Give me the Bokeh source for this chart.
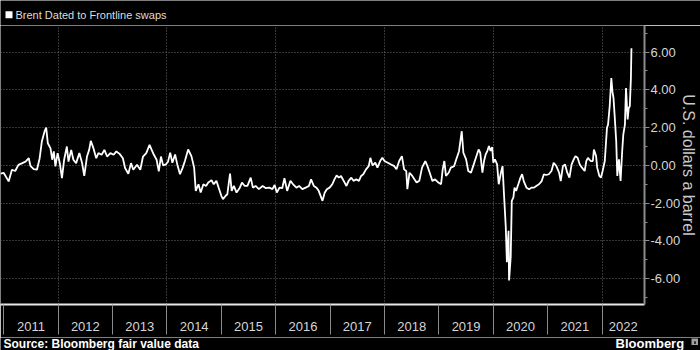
from bokeh.plotting import figure
from bokeh.layouts import column
from bokeh.models import (FixedTicker, CustomJSTickFormatter, NumeralTickFormatter, Range1d)
from bokeh.core.properties import value
from bokeh.embed import file_html
from bokeh.resources import INLINE

# ---- data (decimal year, USD/bbl) ----
dates = [
    2010.94, 2011.00, 2011.03, 2011.09, 2011.15, 2011.21, 2011.27, 2011.34, 2011.40, 2011.46,
    2011.49, 2011.55, 2011.61, 2011.66, 2011.70, 2011.75, 2011.78, 2011.81, 2011.86, 2011.89,
    2011.92, 2011.95, 2011.99, 2012.03, 2012.07, 2012.11, 2012.16, 2012.19, 2012.24, 2012.28,
    2012.33, 2012.39, 2012.44, 2012.48, 2012.53, 2012.57, 2012.60, 2012.65, 2012.70, 2012.74,
    2012.80, 2012.85, 2012.90, 2012.96, 2013.02, 2013.07, 2013.13, 2013.19, 2013.23, 2013.29,
    2013.34, 2013.38, 2013.45, 2013.51, 2013.56, 2013.62, 2013.68, 2013.72, 2013.76, 2013.81,
    2013.85, 2013.89, 2013.93, 2013.98, 2014.02, 2014.06, 2014.10, 2014.15, 2014.19, 2014.24,
    2014.29, 2014.33, 2014.39, 2014.45, 2014.50, 2014.53, 2014.58, 2014.62, 2014.67, 2014.72,
    2014.76, 2014.82, 2014.86, 2014.91, 2014.96, 2015.00, 2015.03, 2015.08, 2015.11, 2015.16,
    2015.19, 2015.23, 2015.28, 2015.34, 2015.38, 2015.43, 2015.48, 2015.54, 2015.58, 2015.63,
    2015.69, 2015.76, 2015.82, 2015.88, 2015.94, 2015.98, 2016.02, 2016.07, 2016.12, 2016.16,
    2016.21, 2016.27, 2016.32, 2016.38, 2016.43, 2016.49, 2016.55, 2016.61, 2016.65, 2016.70,
    2016.75, 2016.79, 2016.86, 2016.90, 2016.94, 2016.99, 2017.04, 2017.08, 2017.12, 2017.16,
    2017.20, 2017.25, 2017.30, 2017.34, 2017.39, 2017.43, 2017.48, 2017.53, 2017.57, 2017.61,
    2017.66, 2017.71, 2017.74, 2017.78, 2017.83, 2017.87, 2017.92, 2017.96, 2018.00, 2018.06,
    2018.12, 2018.18, 2018.22, 2018.27, 2018.32, 2018.36, 2018.40, 2018.42, 2018.46, 2018.51,
    2018.55, 2018.59, 2018.64, 2018.69, 2018.75, 2018.79, 2018.84, 2018.88, 2018.93, 2018.99,
    2019.04, 2019.07, 2019.10, 2019.13, 2019.18, 2019.22, 2019.28, 2019.32, 2019.37, 2019.42,
    2019.45, 2019.50, 2019.54, 2019.59, 2019.63, 2019.68, 2019.73, 2019.76, 2019.80, 2019.83,
    2019.86, 2019.89, 2019.92, 2019.95, 2019.98, 2020.00, 2020.03, 2020.07, 2020.10, 2020.14,
    2020.17, 2020.20, 2020.23, 2020.25, 2020.28, 2020.29, 2020.32, 2020.34, 2020.37, 2020.39,
    2020.42, 2020.46, 2020.50, 2020.53, 2020.56, 2020.61, 2020.66, 2020.70, 2020.75, 2020.79,
    2020.84, 2020.89, 2020.93, 2020.97, 2021.02, 2021.07, 2021.11, 2021.16, 2021.21, 2021.24,
    2021.28, 2021.32, 2021.36, 2021.40, 2021.44, 2021.48, 2021.51, 2021.55, 2021.59, 2021.63,
    2021.68, 2021.71, 2021.74, 2021.79, 2021.83, 2021.85, 2021.89, 2021.91, 2021.95, 2021.98,
    2022.01, 2022.05, 2022.09, 2022.11, 2022.14, 2022.17, 2022.19, 2022.21, 2022.23, 2022.26,
    2022.28, 2022.31, 2022.34, 2022.37, 2022.39, 2022.42, 2022.44, 2022.47, 2022.49, 2022.51,
    2022.53, 2022.54,
]
spread = [
    -0.44, -0.40, -0.55, -0.85, -0.23, -0.30, 0.03, 0.12, 0.20, 0.38,
    -0.02, -0.20, -0.23, 0.38, 1.26, 1.80, 2.00, 1.17, 0.90, 0.30,
    0.74, -0.05, 0.65, 0.12, -0.67, 0.30, 1.00, 0.20, 0.82, 0.30,
    0.12, 0.65, 0.12, -0.55, 0.47, 0.82, 1.30, 0.90, 0.38, 0.65,
    0.56, 0.82, 0.47, 0.65, 0.56, 0.74, 0.61, 0.38, -0.14, -0.44,
    0.12, -0.23, 0.03, -0.23, 0.47, 0.65, 1.09, 0.82, 0.56, 0.30,
    -0.32, 0.47, 0.00, 0.05, 0.20, 0.67, 0.14, 0.58, 0.05, -0.47,
    -0.12, 0.23, 0.84, 0.49, -0.12, -1.35, -1.00, -1.44, -1.00, -1.09,
    -0.91, -0.79, -1.00, -0.82, -1.26, -1.61, -1.79, -1.61, -1.53, -0.44,
    -1.35, -1.09, -1.44, -1.18, -0.91, -1.09, -1.09, -0.65, -1.18, -1.09,
    -1.26, -1.09, -1.21, -1.18, -1.26, -1.04, -1.44, -1.18, -1.21, -0.68,
    -1.35, -0.82, -1.00, -1.18, -1.09, -1.26, -1.18, -1.09, -0.74, -1.09,
    -1.18, -1.35, -1.88, -1.45, -1.26, -1.18, -1.00, -0.74, -0.53, -0.65,
    -0.56, -0.82, -1.09, -0.82, -0.65, -0.82, -0.74, -0.82, -0.56, -0.47,
    -0.21, -0.04, 0.40, 0.00, 0.14, -0.12, 0.23, 0.40, 0.23, 0.14,
    0.05, -0.04, -0.21, 0.23, 0.49, -0.21, -0.30, -1.26, -0.39, -0.56,
    -0.74, -0.91, -0.82, -0.12, 0.23, -0.04, -0.47, -0.82, -0.74, -0.91,
    -1.00, -0.21, 0.23, -0.56, -0.39, -0.12, -0.04, 0.32, 0.75, 1.81,
    0.67, 0.32, -0.30, -0.39, -0.04, 0.40, 0.84, 0.67, -0.39, 0.23,
    0.58, 0.76, 1.02, 0.76, 0.97, 0.14, 0.32, 0.05, -1.00, -0.39,
    -0.04, -1.70, -3.29, -5.13, -3.46, -6.10, -4.87, -1.88, -1.70, -1.18,
    -1.35, -1.00, -0.65, -0.47, -0.83, -1.18, -1.27, -1.18, -1.18, -1.09,
    -1.00, -0.83, -0.47, -0.51, -0.47, -0.30, 0.14, -0.04, -0.39, -0.83,
    -0.04, 0.05, -0.39, -0.65, 0.05, 0.32, 0.49, 0.40, 0.05, -0.12,
    -0.30, 0.23, 0.40, 0.23, 0.23, 0.84, 0.49, -0.12, -0.56, -0.65,
    -0.30, 0.23, 1.99, 2.16, 3.13, 4.62, 3.92, 3.57, 2.69, 1.28,
    -0.56, 0.32, -0.83, 0.76, 1.63, 2.16, 4.10, 2.43, 3.04, 3.13,
    4.62, 6.20,
]
years = list(range(2011, 2023))
grid_years = [2012, 2014, 2016, 2018, 2020, 2022]
y_major = [-6, -4, -2, 0, 2, 4, 6]
y_minor = [-7, -5, -3, -1, 1, 3, 5, 7]

title_text = "Brent Dated to Frontline swaps"
source_text = "Source: Bloomberg fair value data"
brand_text = "Bloomberg"
y_label = "U.S. dollars a barrel"

X0, X1 = 2010.94, 2022.78
Y0, Y1 = -7.37, 7.41
W = 700
BG = "black"
FONT = "Liberation Sans"


def no_align(f):
    try:
        f.frame_align = False
    except Exception:
        pass
    return f


def strip(height):
    f = figure(width=W, height=height, x_range=Range1d(0, W), y_range=Range1d(height, 0),
               x_axis_type=None, y_axis_type=None, output_backend="svg", toolbar_location=None,
               min_border=0, min_border_left=0, min_border_right=0, min_border_top=0,
               min_border_bottom=0, background_fill_color=BG, border_fill_color=BG,
               outline_line_color=None)
    return no_align(f)


# ---- header: legend entry ----
head = strip(25)
head.quad(left=[5], right=[12], top=[10.7], bottom=[17.7], fill_color="white", line_color=None)
head.text(x=[15], y=[14.8], text=[title_text], text_color="#dcdcdc",
          text_font=value(FONT), text_font_size=value("11px"), text_baseline="alphabetic")

# ---- main chart ----
p = figure(width=W, height=312, x_range=Range1d(X0, X1), y_range=Range1d(Y0, Y1),
           y_axis_location="right", output_backend="svg", toolbar_location=None,
           min_border_left=0, min_border_right=54, min_border_top=0, min_border_bottom=33,
           background_fill_color=BG, border_fill_color=BG, outline_line_color=None)
no_align(p)

p.line(dates, spread, line_color="white", line_width=1.8)

label_ticks = [yr + 0.5 for yr in years[:-1]] + [(years[-1] + X1) / 2]
xa = p.xaxis[0]
xa.ticker = FixedTicker(ticks=label_ticks, minor_ticks=years)
xa.formatter = CustomJSTickFormatter(code="return Math.floor(tick).toString()")
xa.axis_line_color = "#e8e8e8"
xa.axis_line_width = 2
xa.major_tick_in = 0
xa.major_tick_out = 0
xa.minor_tick_in = 0
xa.minor_tick_out = 30
xa.minor_tick_line_color = "#8a8a8a"
xa.minor_tick_line_width = 1
xa.major_label_standoff = -13
xa.major_label_text_color = "#d6d6d6"
xa.major_label_text_font = FONT
xa.major_label_text_font_size = "13px"

ya = p.yaxis[0]
ya.ticker = FixedTicker(ticks=y_major, minor_ticks=y_minor)
ya.formatter = NumeralTickFormatter(format="0.00")
ya.axis_line_color = "#8c8c8c"
ya.axis_line_width = 2
ya.major_tick_in = 0
ya.major_tick_out = 5
ya.minor_tick_in = 0
ya.minor_tick_out = 3
ya.major_tick_line_color = "#8c8c8c"
ya.minor_tick_line_color = "#8c8c8c"
ya.major_label_standoff = 1
ya.major_label_text_color = "#d6d6d6"
ya.major_label_text_font = FONT
ya.major_label_text_font_size = "13px"
ya.axis_label = y_label
ya.axis_label_standoff = -3
ya.axis_label_text_color = "#c8c8c8"
ya.axis_label_text_font = FONT
ya.axis_label_text_font_size = "16px"
ya.axis_label_text_font_style = "normal"

p.xgrid.ticker = FixedTicker(ticks=grid_years)
p.ygrid.ticker = FixedTicker(ticks=y_major)
for g in (p.xgrid, p.ygrid):
    g.grid_line_color = "#6a6a6a"
    g.grid_line_dash = "1 2"
    g.grid_line_width = 1

# ---- footer: source and brand ----
foot = strip(13)
foot.text(x=[3], y=[6.5], text=[source_text], text_color="white", text_font=value(FONT),
          text_font_size=value("12px"), text_font_style="bold", text_baseline="alphabetic")
foot.text(x=[615], y=[5.8], text=[brand_text], text_color="white", text_font=value(FONT),
          text_font_size=value("13px"), text_font_style="bold", text_baseline="alphabetic")
foot.quad(left=[691], right=[697.5], top=[0.9], bottom=[7.5], fill_color="#a0a0a0", line_color=None)
foot.quad(left=[693.5], right=[695.5], top=[3.7], bottom=[6.5], fill_color="#303030", line_color=None)

layout = column(head, p, foot, spacing=0)
open("out.html", "w").write(file_html(layout, INLINE))
